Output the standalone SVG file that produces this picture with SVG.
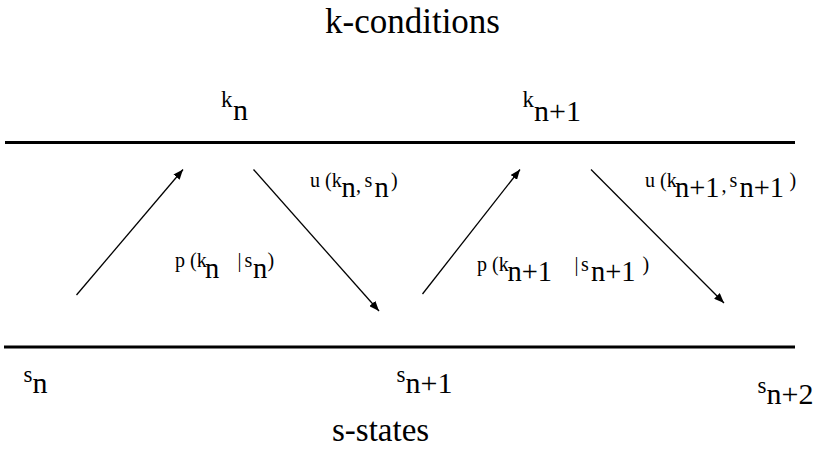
<svg xmlns="http://www.w3.org/2000/svg" width="821" height="464" viewBox="0 0 821 464">
<defs>
<marker id="ah" viewBox="0 0 10 8" refX="10" refY="4" markerWidth="10" markerHeight="8" markerUnits="userSpaceOnUse" orient="auto">
<path d="M0,0 L10,4 L0,8 Z" fill="#000"/>
</marker>
</defs>
<g id="axes" stroke="#000" stroke-width="3" fill="none">
<line id="k-line" x1="5" y1="142.5" x2="795" y2="142.5"/>
<line id="s-line" x1="4" y1="347" x2="795" y2="347"/>
</g>
<g id="connectors" stroke="#000" stroke-width="1.3" fill="none" marker-end="url(#ah)">
<line x1="76.5" y1="295" x2="183" y2="169.5"/>
<line x1="253.5" y1="169.5" x2="379" y2="311"/>
<line x1="422.5" y1="294" x2="520" y2="169.5"/>
<line x1="591" y1="169.5" x2="724" y2="303"/>
</g>
<g id="labels" font-family="Liberation Serif" fill="#000">
<g id="title-k"><text font-family="Liberation Serif" font-size="35" x="325" y="33">k-conditions</text></g>
<g id="title-s"><text font-family="Liberation Serif" font-size="33" x="332" y="441">s-states</text></g>
<g id="kn"><text font-family="Liberation Serif"><tspan font-size="23" x="221" y="107">k</tspan><tspan font-size="30" x="233" y="120">n</tspan></text></g>
<g id="kn1"><text font-family="Liberation Serif"><tspan font-size="23" x="522.5" y="107">k</tspan><tspan font-size="30" x="534" y="121">n+1</tspan></text></g>
<g id="sn"><text font-family="Liberation Serif"><tspan font-size="23" x="23.5" y="382">s</tspan><tspan font-size="30" x="32.5" y="393">n</tspan></text></g>
<g id="sn1"><text font-family="Liberation Serif"><tspan font-size="23" x="396.5" y="382">s</tspan><tspan font-size="30" x="405.5" y="393">n+1</tspan></text></g>
<g id="sn2"><text font-family="Liberation Serif"><tspan font-size="23" x="757.5" y="393">s</tspan><tspan font-size="30" x="766.5" y="404">n+2</tspan></text></g>
<g id="p-n"><text font-family="Liberation Serif"><tspan font-size="20" x="175" y="267">p (k</tspan><tspan font-size="28.5" x="205" y="278">n</tspan><tspan font-size="20" x="237.5" y="267">|</tspan><tspan font-size="20" x="244.5" y="267">s</tspan><tspan font-size="28.5" x="253" y="278">n</tspan><tspan font-size="20" x="267.5" y="267">)</tspan></text></g>
<g id="u-n"><text font-family="Liberation Serif"><tspan font-size="20" x="310" y="187">u (k</tspan><tspan font-size="28.5" x="341.5" y="197">n</tspan><tspan font-size="20" x="356" y="192">,</tspan><tspan font-size="20" x="364.5" y="187">s</tspan><tspan font-size="28.5" x="374.5" y="197">n</tspan><tspan font-size="20" x="391" y="187">)</tspan></text></g>
<g id="p-n1"><text font-family="Liberation Serif"><tspan font-size="20" x="477" y="271">p (k</tspan><tspan font-size="28.5" x="507.5" y="281">n+1</tspan><tspan font-size="20" x="574.5" y="271">|</tspan><tspan font-size="20" x="581" y="271">s</tspan><tspan font-size="28.5" x="591" y="281">n+1</tspan><tspan font-size="20" x="642.5" y="271">)</tspan></text></g>
<g id="u-n1"><text font-family="Liberation Serif"><tspan font-size="20" x="645" y="187">u (k</tspan><tspan font-size="28.5" x="675" y="197">n+1</tspan><tspan font-size="20" x="721.5" y="192">,</tspan><tspan font-size="20" x="729.5" y="187">s</tspan><tspan font-size="28.5" x="739.5" y="197">n+1</tspan><tspan font-size="20" x="789.5" y="187">)</tspan></text></g>
</g>
</svg>
